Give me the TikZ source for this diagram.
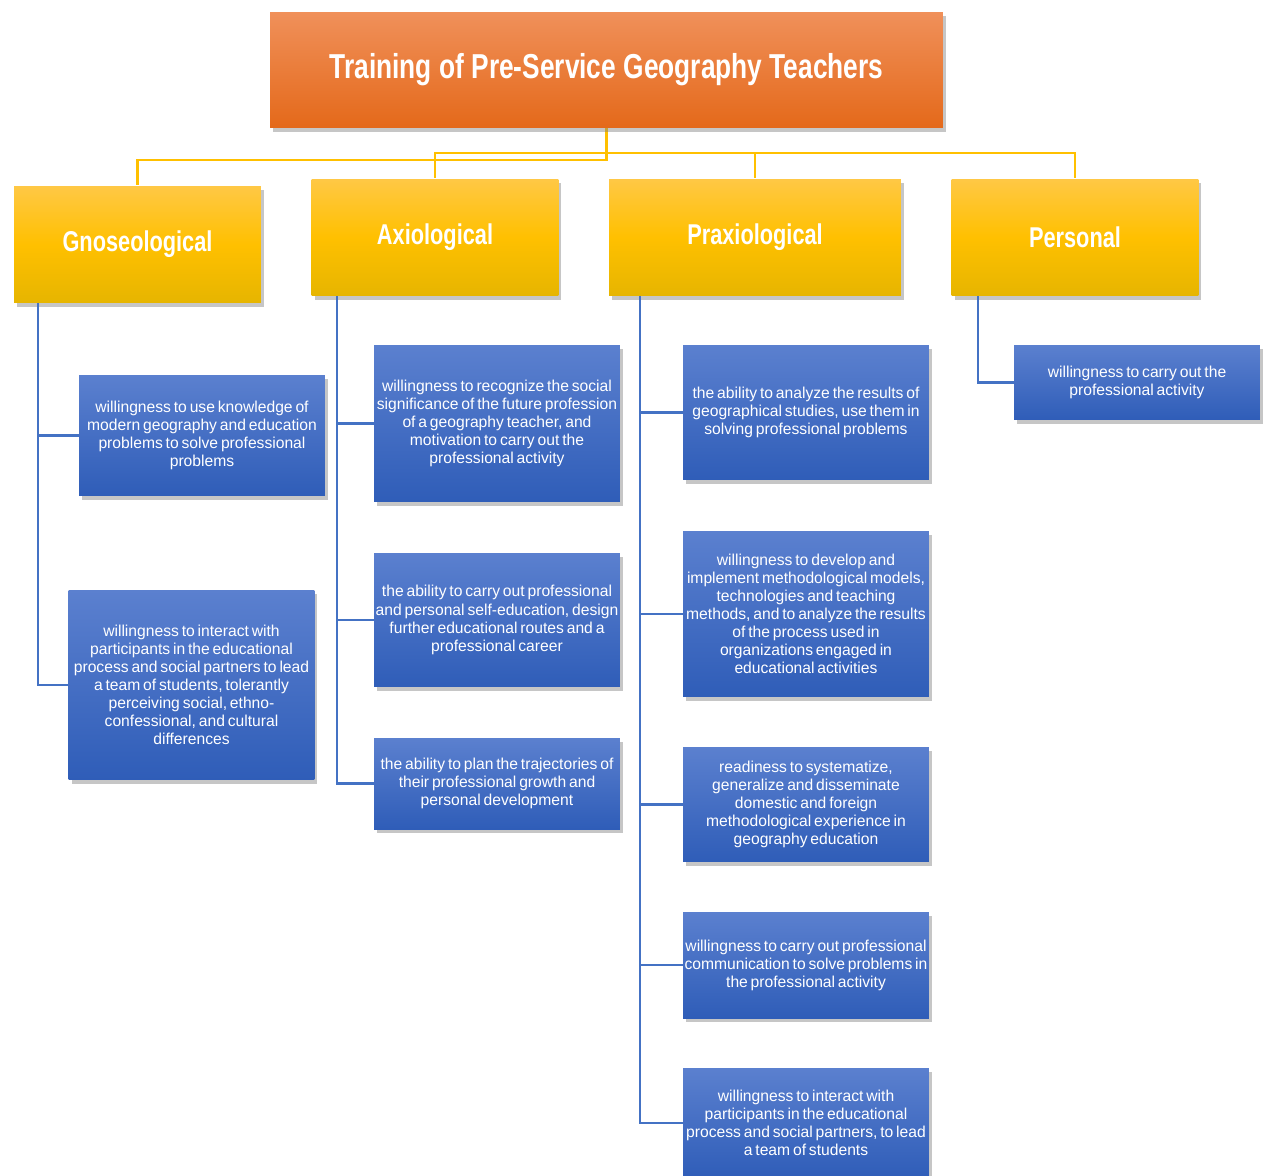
\documentclass[tikz,border=0pt]{standalone}
\usepackage{fontspec}
\setmainfont{Liberation Sans}
\newfontfamily\headfont[FakeStretch=0.76]{Liberation Sans}
\newfontfamily\itemfont[FakeStretch=0.99]{Liberation Sans}
\newcommand\tightwords{\spaceskip=0.18em plus 0.05em minus 0.05em\relax}
\usetikzlibrary{shadows}
\definecolor{orangetop}{HTML}{F0905A}
\definecolor{orangebot}{HTML}{E4691A}
\definecolor{yellowtop}{HTML}{FFC845}
\definecolor{yellowmid}{HTML}{FFC000}
\definecolor{yellowbot}{HTML}{E6B500}
\definecolor{bluetop}{HTML}{5B80CF}
\definecolor{bluebot}{HTML}{2F5DB8}
\definecolor{yellowline}{HTML}{FFC000}
\definecolor{blueline}{HTML}{4472C4}

\begin{document}
\begin{tikzpicture}[x=0.02cm,y=-0.02cm,
    titlebox/.style={top color=orangetop,bottom color=orangebot,text=white,
      minimum width=13.46cm,minimum height=2.32cm,inner sep=0pt,
      drop shadow={shadow xshift=0.6mm,shadow yshift=-0.8mm,opacity=0.45},
      font=\headfont\bfseries\fontsize{19.7}{23}\selectfont},
    catbox/.style={top color=yellowtop,bottom color=yellowbot,middle color=yellowmid,text=white,
      minimum width=4.94cm,minimum height=2.34cm,inner sep=0pt,
      drop shadow={shadow xshift=0.6mm,shadow yshift=-0.8mm,opacity=0.45},
      font=\headfont\bfseries\fontsize{16.3}{19}\selectfont},
    itembox/.style={top color=bluetop,bottom color=bluebot,text=white,
      minimum width=4.92cm,inner sep=0pt,align=center,
      drop shadow={shadow xshift=0.6mm,shadow yshift=-0.8mm,opacity=0.45},
      font=\itemfont\fontsize{9}{10.3}\selectfont\tightwords},
    yline/.style={yellowline,line width=1.3pt},
    bline/.style={blueline,line width=1.3pt}]
  \useasboundingbox (0,0) rectangle (1264,1176);

  % connectors first, boxes on top
  \coordinate (gnotop) at (137.5,185);
  \coordinate (axitop) at (435,178);
  \coordinate (pratop) at (755,178);
  \coordinate (pertop) at (1075,178);
  \coordinate (titlebot) at (606.5,128);
  \draw[yline] (titlebot) -- ++(0,32) -| (gnotop);
  \draw[yline] (axitop) -- ++(0,-25) -| (pertop);
  \draw[yline] (pratop) -- ++(0,-25);
  \draw[yline] (titlebot) -- ++(0,32);

  \node[titlebox] (title) at (606.5,70) {Training of Pre-Service Geography Teachers};

  \node[catbox] (gno) at (137.5,244.5) {Gnoseological};
  \node[catbox] (axi) at (435,237.5) {Axiological};
  \node[catbox,minimum width=5.84cm] (pra) at (755,237.5) {Praxiological};
  \node[catbox] (per) at (1075,237.5) {Personal};

  \node[itembox,minimum height=2.42cm] (g1) at (202,435.5)
    {willingness to use knowledge of\\modern geography and education\\problems to solve professional\\problems};
  \node[itembox,minimum height=3.8cm] (g2) at (191.5,685)
    {willingness to interact with\\participants in the educational\\process and social partners to lead\\a team of students, tolerantly\\perceiving social, ethno-\\confessional, and cultural\\differences};

  \node[itembox,minimum height=3.14cm] (a1) at (497,423.5)
    {willingness to recognize the social\\significance of the future profession\\of a geography teacher, and\\motivation to carry out the\\professional activity};
  \node[itembox,minimum height=2.68cm] (a2) at (497,620)
    {the ability to carry out professional\\and personal self-education, design\\further educational routes and a\\professional career};
  \node[itembox,minimum height=1.82cm] (a3) at (497,783.5)
    {the ability to plan the trajectories of\\their professional growth and\\personal development};

  \node[itembox,minimum height=2.7cm] (p1) at (806,412.5)
    {the ability to analyze the results of\\geographical studies, use them in\\solving professional problems};
  \node[itembox,minimum height=3.32cm] (p2) at (806,614)
    {willingness to develop and\\implement methodological models,\\technologies and teaching\\methods, and to analyze the results\\of the process used in\\organizations engaged in\\educational activities};
  \node[itembox,minimum height=2.3cm] (p3) at (806,804.5)
    {readiness to systematize,\\generalize and disseminate\\domestic and foreign\\methodological experience in\\geography education};
  \node[itembox,minimum height=2.12cm] (p4) at (806,965)
    {willingness to carry out professional\\communication to solve problems in\\the professional activity};
  \node[itembox,minimum height=2.2cm] (p5) at (806,1123)
    {willingness to interact with\\participants in the educational\\process and social partners, to lead\\a team of students};

  \node[itembox,minimum height=1.5cm] (r1) at (1137,382.5)
    {willingness to carry out the\\professional activity};

  \foreach \c in {g1,g2}
    \draw[bline] (gno.south west) ++(24,0) |- (\c.west);
  \foreach \c in {a1,a2,a3}
    \draw[bline] (axi.south west) ++(26,0) |- (\c.west);
  \foreach \c in {p1,p2,p3,p4,p5}
    \draw[bline] (pra.south west) ++(31,0) |- (\c.west);
  \draw[bline] (per.south west) ++(27,0) |- (r1.west);
\end{tikzpicture}
\end{document}
